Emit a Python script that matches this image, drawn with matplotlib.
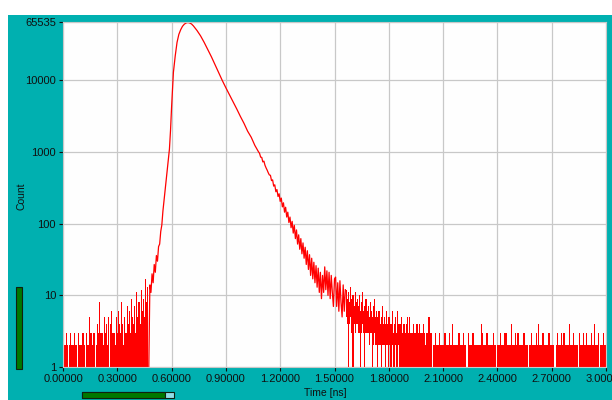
import numpy as np
import matplotlib
matplotlib.use("Agg")
import matplotlib.pyplot as plt
from matplotlib.patches import Rectangle

plt.rcParams['font.family'] = ['Liberation Sans', 'DejaVu Sans']

# bin width used to read the histogram [ns]
dt = 0.006

# background before the pulse, t = 0 .. 0.468 ns (highest count in each bin)
bg_left = [3, 2, 2, 3, 2, 1, 2, 3, 2, 2, 2, 3, 2, 1, 3, 2, 2,
           2, 3, 3, 2, 1, 3, 2, 5, 3, 3, 2, 3, 3, 1, 2, 4, 3,
           8, 3, 3, 2, 5, 3, 4, 2, 5, 1, 4, 6, 3, 3, 2, 5, 3,
           6, 4, 3, 8, 4, 2, 5, 3, 7, 4, 6, 3, 9, 5, 4, 7, 3,
           11, 5, 8, 4, 12, 6, 9, 5, 17, 8, 13]

# rising edge, t = 0.474 .. 0.600 ns
rise = [1, 14, 11, 20, 15, 27, 21, 36, 30, 48, 52, 78, 96, 150, 210,
        290, 400, 560, 780, 1100, 2000, 4300]

# peak and fast decay
peak_t = [0.61, 0.62, 0.63, 0.64, 0.65, 0.66, 0.67, 0.68, 0.69, 0.70,
          0.71, 0.72, 0.74, 0.76, 0.78, 0.80, 0.82, 0.84, 0.86, 0.88,
          0.90, 0.92, 0.94, 0.96, 0.98, 1.00, 1.02, 1.04, 1.06, 1.08]
peak_n = [13000, 22000, 34000, 44000, 51000, 57000, 61000, 63500, 64500, 63500,
          61500, 58000, 50000, 42000, 34000, 27000, 21400, 16600, 12900, 10000,
          7900, 6300, 5000, 4000, 3150, 2520, 1960, 1610, 1240, 1010]

# noisy decay, t = 1.086 .. 1.560 ns
tail = [960, 850, 845, 730, 748, 655, 602, 560, 515, 480,
        475, 400, 410, 335, 350, 280, 300, 240, 262, 205,
        228, 172, 196, 145, 170, 124, 145, 104, 124, 88,
        108, 74, 95, 62, 82, 52, 70, 44, 62, 38,
        54, 33, 47, 27, 42, 23, 37, 19, 33, 17,
        29, 15, 26, 13, 24, 11, 21, 9, 19, 11,
        25, 12, 22, 10, 21, 9, 19, 11, 7, 17,
        18, 7, 15, 6, 16, 8, 5, 14, 6, 12]

# low-count tail, t = 1.566 .. 2.040 ns: highest and lowest count in each bin
band_hi = [12, 9, 11, 8, 13, 9, 10, 7, 11, 8,
           9, 7, 10, 6, 8, 11, 6, 7, 9, 6,
           7, 5, 8, 6, 5, 7, 9, 5, 6, 5,
           6, 4, 5, 7, 4, 5, 4, 6, 4, 5,
           5, 4, 6, 3, 4, 5, 3, 6, 4, 4,
           4, 5, 3, 4, 3, 4, 5, 3, 5, 3,
           3, 3, 4, 3, 3, 4, 3, 4, 3, 3,
           3, 4, 3, 2, 3, 3, 5, 3, 3, 2]
band_lo = [5, 4, 1, 4, 5, 3, 1, 4, 3, 4,
           4, 3, 3, 1, 3, 4, 3, 1, 3, 3,
           3, 2, 3, 3, 1, 2, 3, 2, 2, 1,
           2, 2, 1, 2, 2, 2, 1, 2, 2, 1,
           2, 1, 2, 1, 1, 2, 1, 1, 2, 1,
           1, 1, 1, 1, 1, 1, 1, 1, 1, 1,
           1, 1, 1, 1, 1, 1, 1, 1, 1, 1,
           1, 1, 1, 1, 1, 1, 1, 1, 1, 1]

# background after the pulse, t = 2.046 .. 3.000 ns (highest count in each bin)
bg_right = ("2232223222" "3322232242" "2223322232" "2132223322"
            "2222432223" "3222232212" "2232223322" "2242223232"
            "2223322212" "3222232422" "2322223322" "2212322232"
            "3322242223" "2222132232" "2322223242" "2231222322")

x_ticks = [0.0, 0.3, 0.6, 0.9, 1.2, 1.5, 1.8, 2.1, 2.4, 2.7, 3.0]
y_ticks = [1, 10, 100, 1000, 10000, 65535]

t_left = np.arange(len(bg_left)) * dt
t_pulse = np.concatenate([0.474 + np.arange(len(rise)) * dt,
                          np.array(peak_t),
                          1.086 + np.arange(len(tail)) * dt])
n_pulse = np.concatenate([rise, peak_n, tail]).astype(float)
bg_right_n = np.array([int(c) for c in bg_right], dtype=float)
t_band = 1.566 + np.arange(len(band_hi)) * dt
t_right = 2.046 + np.arange(len(bg_right_n)) * dt

teal = '#00B0B0'
red = '#FF0000'
fig = plt.figure(figsize=(6.12, 4.0), dpi=100, facecolor='white')
fig.patches.append(Rectangle((8 / 612, 0), 604 / 612, 385 / 400,
                             transform=fig.transFigure, facecolor=teal,
                             edgecolor='none', zorder=-10))

ax = fig.add_axes([63 / 612, 33 / 400, 543 / 612, 345 / 400])
ax.set_facecolor('#FEFEFE')
ax.fill_between(t_left, 1, bg_left, step='mid', color=red, lw=0)
ax.plot(t_pulse, n_pulse, color=red, lw=0.9)
ax.fill_between(np.r_[t_pulse[-1], t_band], np.r_[n_pulse[-1], band_lo],
                np.r_[n_pulse[-1], band_hi], step='mid', color=red, lw=0)
ax.fill_between(t_right, 1, bg_right_n, step='mid', color=red, lw=0)
ax.set_yscale('log')
ax.set_xlim(0, 3.0)
ax.set_ylim(1, 65535)
ax.set_xticks(x_ticks)
ax.set_xticklabels(['%.5f' % v for v in x_ticks])
ax.set_yticks(y_ticks)
ax.set_yticklabels([str(v) for v in y_ticks])
ax.minorticks_off()
ax.grid(True, color='#C8C8C8', lw=0.9)
ax.set_axisbelow(True)
ax.tick_params(labelsize=8, length=3, width=0.8, colors='#101010', pad=2)
for s in ax.spines.values():
    s.set_color('#C8C8C8')
    s.set_linewidth(0.8)

fig.text(21 / 612, 1 - 196 / 400, 'Count', rotation=90, fontsize=7.5,
         ha='center', va='center', color='#101010')
fig.text(325 / 612, 1 - 393 / 400, 'Time [ns]', fontsize=7.5,
         ha='center', va='center', color='#101010')

# scroll bars of the viewer
fig.patches.append(Rectangle((16 / 612, 31 / 400), 6 / 612, 82 / 400,
                             transform=fig.transFigure, facecolor='#007800',
                             edgecolor='#102010', lw=0.8, zorder=2))
fig.patches.append(Rectangle((82 / 612, 2.5 / 400), 92 / 612, 5.5 / 400,
                             transform=fig.transFigure, facecolor='#90DDE6',
                             edgecolor='#102010', lw=0.8, zorder=2))
fig.patches.append(Rectangle((82 / 612, 2.5 / 400), 83 / 612, 5.5 / 400,
                             transform=fig.transFigure, facecolor='#007800',
                             edgecolor='#102010', lw=0.8, zorder=3))

fig.savefig('out.png', dpi=100, facecolor=fig.get_facecolor())
